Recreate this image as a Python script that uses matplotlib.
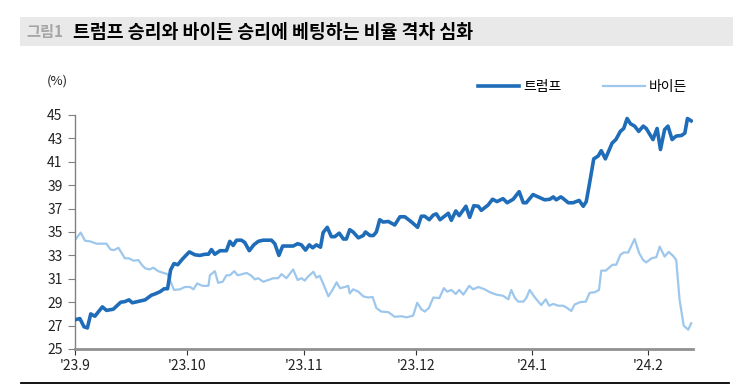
import matplotlib
matplotlib.use("Agg")
import matplotlib.pyplot as plt
from matplotlib.patches import Rectangle
from matplotlib.lines import Line2D

plt.rcParams['font.family'] = ['Noto Sans CJK KR', 'DejaVu Sans']

# days since 2023-09-01
trump_day = [0, 1.3, 2.4, 3.3, 4.2, 5.3, 7.3, 8.4, 10.2, 12.2, 13.3, 14.4, 15.3, 17.3, 18.7,
             20.4, 21.3, 22.7, 23.8, 24.7, 25.5, 26.4, 27.4, 28.7, 30.5, 32.0, 33.3, 34.7, 35.6,
             36.4, 37.3, 38.7, 40.4, 41.3, 42.2, 43.1, 44.4, 45.3, 46.5, 47.7, 48.9, 50.2, 52.4,
             53.3, 54.4, 55.4, 56.4, 58.2, 59.4, 60.4, 61.5, 62.5, 63.4, 64.4, 65.5, 66.2, 67.3,
             68.4, 69.3, 70.5, 71.6, 72.4, 73.3, 74.2, 75.6, 76.9, 77.5, 78.7, 79.6, 80.4, 81.3,
             82.2, 83.6, 85.3, 86.7, 88.0, 89.8, 91.4, 92.4, 93.3, 94.5, 95.6, 96.4, 97.4, 99.6,
             100.4, 101.6, 102.5, 104.3, 105.3, 106.4, 107.6, 108.4, 110.2, 111.4, 112.6, 114.2,
             115.3, 116.9, 118.5, 119.6, 120.4, 122.2, 123.6, 125.3, 126.7, 127.6, 128.4, 129.6,
             130.1, 131.6, 132.9, 134.5, 135.6, 136.4, 137.3, 138.4, 139.6, 140.4, 141.5, 143.3,
             144.3, 145.5, 146.4, 147.3, 148.2, 149.3, 150.4, 151.6, 152.4, 154.2, 155.3, 156.2,
             157.3, 158.2, 159.3, 160.4, 161.8, 162.7, 163.4, 164.4]
trump = [27.5, 27.6, 26.9, 26.8, 28.0, 27.8, 28.6, 28.3, 28.4, 29.0, 29.05, 29.2, 28.95, 29.1, 29.2,
         29.6, 29.7, 29.9, 30.15, 30.15, 31.75, 32.3, 32.2, 32.7, 33.3, 33.05, 33.0, 33.1, 33.1,
         33.5, 33.1, 33.4, 33.4, 34.2, 33.85, 34.3, 34.3, 34.1, 33.4, 33.9, 34.2, 34.3, 34.3,
         34.0, 33.0, 33.8, 33.8, 33.8, 34.0, 33.9, 33.45, 33.9, 33.65, 33.9, 33.7, 34.95, 35.4,
         34.6, 34.6, 34.9, 34.4, 34.4, 35.2, 35.0, 34.5, 34.7, 35.0, 34.7, 34.7, 35.0, 36.05,
         35.85, 35.9, 35.6, 36.3, 36.3, 35.85, 35.4, 36.35, 36.35, 36.05, 36.45, 36.55, 36.05, 36.6,
         36.0, 36.8, 36.4, 37.2, 36.25, 37.25, 37.2, 36.85, 37.3, 37.8, 37.6, 37.85,
         37.5, 37.8, 38.45, 37.5, 37.5, 38.2, 38.0, 37.75, 37.8, 38.0, 37.75, 38.0,
         37.9, 37.5, 37.5, 37.7, 37.2, 37.6, 39.2, 41.25, 41.5, 41.95, 41.25, 42.6,
         42.9, 43.6, 43.85, 44.7, 44.25, 44.05, 43.6, 44.05, 43.85, 42.9, 43.85, 42.05,
         43.75, 44.05, 42.9, 43.2, 43.25, 43.45, 44.7, 44.5]

biden_day = [0, 1.5, 2.7, 4.0, 5.8, 8.4, 9.5, 10.4, 11.6, 13.3, 14.4, 15.6, 16.9, 17.8, 18.7,
             19.9, 20.9, 22.2, 23.6, 24.7, 25.3, 26.4, 28.0, 29.3, 30.7, 31.6, 32.6, 34.0, 35.6,
             36.0, 37.3, 38.2, 39.4, 40.4, 41.3, 42.5, 43.4, 44.6, 45.8, 47.1, 48.0, 48.9, 50.2,
             51.6, 52.9, 54.2, 55.1, 56.4, 58.2, 59.4, 60.4, 61.3, 62.2, 63.6, 64.4, 65.3, 66.2,
             67.6, 68.7, 69.8, 70.7, 72.0, 72.9, 73.3, 74.2, 75.6, 76.9, 78.2, 79.4, 80.4, 81.7,
             83.6, 85.3, 87.1, 88.4, 90.2, 91.3, 92.4, 93.3, 94.4, 95.6, 97.2, 98.4, 99.3, 100.4,
             101.6, 102.5, 103.6, 105.2, 106.2, 107.6, 109.3, 110.7, 112.4, 114.2, 115.6, 116.4,
             117.3, 118.2, 119.6, 120.4, 121.3, 122.7, 124.4, 125.6, 126.5, 127.6, 128.9, 130.2,
             131.1, 132.4, 133.3, 134.7, 136.3, 137.3, 138.7, 139.8, 140.4, 141.6, 143.4, 144.4,
             145.5, 146.4, 147.6, 148.4, 149.3, 150.5, 151.6, 152.4, 153.8, 155.1, 156.0, 157.3,
             158.4, 159.6, 160.4, 161.3, 162.4, 163.6, 164.4]
biden = [34.3, 34.95, 34.25, 34.2, 34.0, 34.0, 33.5, 33.45, 33.65, 32.75, 32.75, 32.55, 32.6, 32.2, 31.9,
         31.8, 31.95, 31.65, 31.5, 31.4, 30.9, 30.05, 30.1, 30.3, 30.3, 30.1, 30.6, 30.4, 30.4,
         31.3, 31.65, 30.65, 30.75, 31.3, 31.3, 31.65, 31.3, 31.4, 31.5, 31.25, 30.95, 31.05, 30.75,
         30.9, 31.05, 31.05, 31.4, 31.05, 31.8, 30.9, 31.05, 30.85, 31.2, 31.6, 31.1, 31.25, 30.6,
         29.5, 30.05, 30.7, 30.2, 30.3, 30.4, 29.75, 30.1, 29.9, 29.5, 29.4, 29.45, 28.5, 28.2,
         28.15, 27.75, 27.8, 27.7, 27.85, 28.95, 28.4, 28.2, 28.5, 29.4, 29.35, 30.2, 29.9, 30.05,
         29.7, 30.05, 29.65, 30.4, 30.1, 30.3, 30.1, 29.85, 29.65, 29.55, 29.25, 30.05,
         29.4, 29.05, 29.05, 29.35, 30.05, 29.4, 28.75, 29.25, 28.7, 28.85, 28.7, 28.7,
         28.55, 28.25, 28.8, 29.0, 29.05, 29.8, 29.85, 30.05, 31.7, 31.7, 32.2, 32.2,
         33.05, 33.25, 33.25, 33.8, 34.4, 33.2, 32.6, 32.4, 32.75, 32.85, 33.75, 32.9,
         33.3, 32.95, 32.6, 29.2, 27.0, 26.65, 27.2]

tick_days = [0, 30, 61, 91, 122, 153]
tick_labels = ["'23.9", "'23.10", "'23.11", "'23.12", "'24.1", "'24.2"]
y_ticks = [25, 27, 29, 31, 33, 35, 37, 39, 41, 43, 45]

title_prefix = "그림1"
title_text = "트럼프 승리와 바이든 승리에 베팅하는 비율 격차 심화"

fig = plt.figure(figsize=(7.49, 3.89), dpi=100)
fig.patch.set_facecolor('white')

# title band
fig.patches.append(Rectangle((20/749, 1-46/389), (733-20)/749, 29/389,
                             transform=fig.transFigure, facecolor='#e9e9e9',
                             edgecolor='none', zorder=0))
fig.text(26/749, 1-32/389, title_prefix, fontsize=11, color='#a6a6a6',
         va='center', ha='left', fontweight='bold')
fig.text(73/749, 1-32/389, title_text, fontsize=13.2, color='black',
         va='center', ha='left', fontweight='bold')

# bottom rule
fig.add_artist(Line2D([21/749, 729/749], [1-383/389, 1-383/389],
                      transform=fig.transFigure, color='black', lw=1.3))

ax = fig.add_axes([75/749, 1-349/389, (692.7-75)/749, (349-115)/389])
ax.plot(biden_day, biden, color='#9dc7ec', lw=1.6, label='바이든', zorder=2)
ax.plot(trump_day, trump, color='#1f6db8', lw=2.6, label='트럼프', zorder=3)

ax.set_xlim(0, 164.8)
ax.set_ylim(25, 45)
ax.set_yticks(y_ticks)
ax.set_xticks(tick_days)
ax.set_xticklabels(tick_labels)
for s in ['top', 'right']:
    ax.spines[s].set_visible(False)
ax.spines['left'].set_color('#808080')
ax.spines['bottom'].set_color('#909090')
ax.spines['bottom'].set_linewidth(2.0)
ax.spines['left'].set_linewidth(1.0)
ax.tick_params(axis='y', direction='out', length=5, color='#808080', labelsize=10, pad=4,
               labelcolor='#222222')
ax.tick_params(axis='x', direction='out', length=4, color='#333333', labelsize=10, pad=3,
               labelcolor='#222222')

fig.text(47/749, 1-81/389, '(%)', fontsize=9.5, color='#222222', va='center', ha='left')

# legend
handles = [Line2D([0], [0], color='#1f6db8', lw=2.6),
           Line2D([0], [0], color='#9dc7ec', lw=1.6)]
fig.legend(handles, ['트럼프', '바이든'], loc='center left',
           bbox_to_anchor=(465/749, 1-87/389), ncol=2, frameon=False,
           fontsize=10, handlelength=3.0, columnspacing=3.0, handletextpad=0.3)

fig.savefig('out.png', dpi=100)
